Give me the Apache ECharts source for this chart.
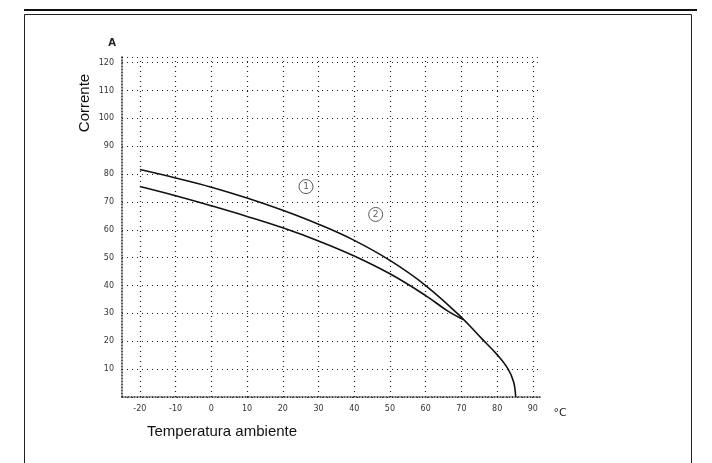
<!DOCTYPE html>
<html>
<head>
<meta charset="utf-8">
<script src="https://cdn.jsdelivr.net/npm/echarts@6/dist/echarts.min.js"></script>
<style>
  html, body { margin: 0; padding: 0; background: #fff; }
  #chart { width: 712px; height: 463px; }
</style>
</head>
<body>
<div id="chart"></div>
<script>
// tick labels
const tempTicks = [-20, -10, 0, 10, 20, 30, 40, 50, 60, 70, 80, 90];
const currentTicks = [10, 20, 30, 40, 50, 60, 70, 80, 90, 100, 110, 120];

// curve 1 (upper) and curve 2 (lower): [temperature °C, current]
const curve1 = [[-20, 81.6], [-10, 78.6], [0, 75.3], [10, 71.4], [20, 67], [30, 62], [40, 56.2], [50, 49],
  [60, 40], [70, 28.6], [75.5, 21.2], [80, 15.2], [83, 10.2], [84.6, 5.5], [85.2, 0]];
const curve2 = [[-20, 75.5], [-10, 72.2], [0, 68.6], [10, 64.8], [20, 60.7], [30, 56], [40, 50.6], [50, 44.2],
  [60, 36.4], [66, 31], [70.5, 27.8]];

// curve markers (circled numbers)
const curveTags = [{ name: '1', at: [26.5, 75.5] }, { name: '2', at: [46, 65.5] }];

const chart = echarts.init(document.getElementById('chart'));

const dotted = { color: '#222', width: 1.2, type: [1, 4] };

const option = {
  animation: false,
  grid: { left: 122, right: 172, top: 57, bottom: 66, containLabel: false },
  xAxis: {
    type: 'value',
    min: -25,
    max: 92,
    axisLine: { show: true, onZero: false, lineStyle: { color: '#222', width: 1.5, type: [1, 2] } },
    axisTick: { show: false },
    splitLine: { show: false },
    axisLabel: {
      customValues: tempTicks,
      color: '#333',
      fontSize: 8,
      margin: 8,
      fontFamily: 'DejaVu Sans'
    }
  },
  yAxis: {
    type: 'value',
    min: 0,
    max: 122,
    interval: 10,
    axisLine: { show: true, onZero: false, lineStyle: { color: '#222', width: 1.5, type: [1, 2] } },
    axisTick: { show: false },
    splitLine: { show: true, lineStyle: dotted },
    axisLabel: {
      color: '#333',
      fontSize: 8,
      margin: 8,
      fontFamily: 'DejaVu Sans',
      formatter: v => currentTicks.indexOf(v) >= 0 ? String(v) : ''
    }
  },
  series: [
    {
      type: 'line',
      data: curve1,
      smooth: 0.4,
      showSymbol: false,
      lineStyle: { color: '#111', width: 1.6 },
      markLine: {
        silent: true,
        symbol: 'none',
        label: { show: false },
        lineStyle: dotted,
        data: tempTicks.map(t => ({ xAxis: t }))
      }
    },
    {
      type: 'line',
      data: curve2,
      smooth: 0.4,
      showSymbol: false,
      lineStyle: { color: '#111', width: 1.6 }
    },
    {
      type: 'scatter',
      data: curveTags.map(t => ({ value: t.at, name: t.name })),
      symbol: 'circle',
      symbolSize: 14,
      itemStyle: { color: '#fff', borderColor: '#333', borderWidth: 1 },
      label: {
        show: true,
        position: 'inside',
        formatter: p => p.name,
        color: '#333',
        fontSize: 9,
        fontFamily: 'DejaVu Sans'
      }
    }
  ],
  graphic: [
    { type: 'line', shape: { x1: 24, y1: 10, x2: 697, y2: 10 }, style: { stroke: '#111', lineWidth: 2 } },
    { type: 'rect', shape: { x: 24.5, y: 14.5, width: 667, height: 460 }, style: { fill: 'none', stroke: '#222', lineWidth: 1 } },
    { type: 'text', x: 112, y: 43, style: { text: 'A', fill: '#222', font: 'bold 10px DejaVu Sans', align: 'center', verticalAlign: 'middle' } },
    { type: 'text', x: 560, y: 413, style: { text: '°C', fill: '#222', font: '11px DejaVu Sans', align: 'center', verticalAlign: 'middle' } },
    { type: 'text', x: 85, y: 103, rotation: Math.PI / 2, style: { text: 'Corrente', fill: '#111', font: '15px Liberation Sans', align: 'center', verticalAlign: 'middle' } },
    { type: 'text', x: 147, y: 432, style: { text: 'Temperatura ambiente', fill: '#111', font: '15px Liberation Sans', align: 'left', verticalAlign: 'middle' } }
  ]
};

chart.setOption(option);
</script>
</body>
</html>
